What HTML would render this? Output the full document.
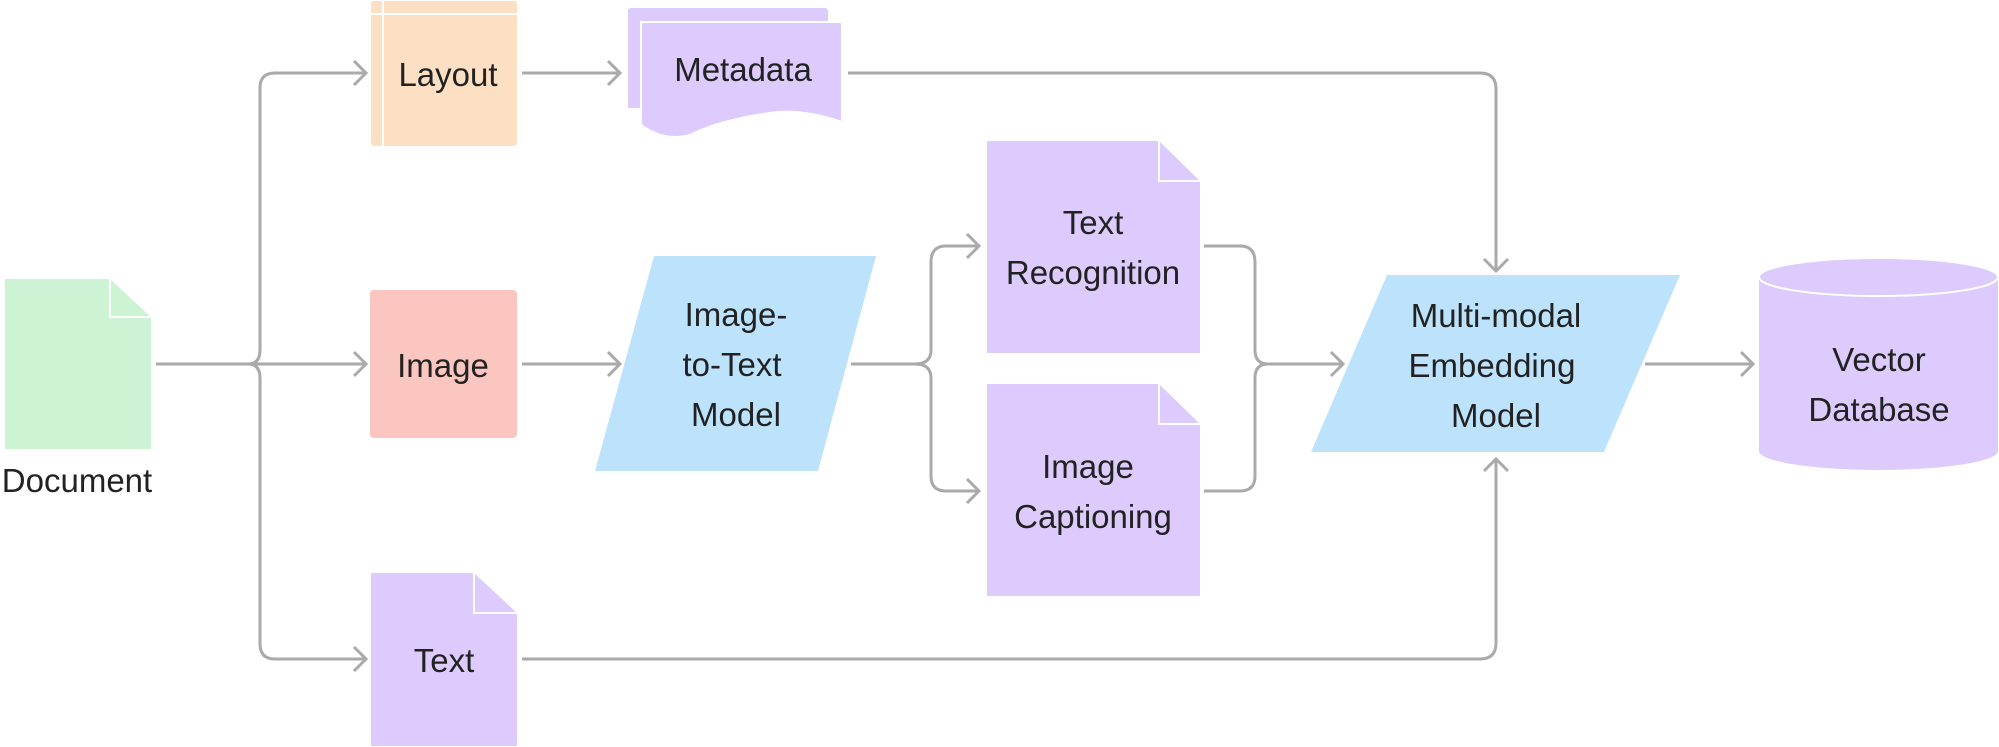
<!DOCTYPE html>
<html><head><meta charset="utf-8"><style>
html,body{margin:0;padding:0;background:#fff;}
svg{display:block;}
text{font-family:"Liberation Sans",sans-serif;font-size:33px;fill:#222;text-anchor:middle;}
</style></head><body>
<svg width="1999" height="747" viewBox="0 0 1999 747" xmlns="http://www.w3.org/2000/svg">
<defs>
<marker id="a" markerWidth="16" markerHeight="28" refX="14" refY="14" orient="auto" markerUnits="userSpaceOnUse">
<path d="M2,2 L14,14 L2,26" fill="none" stroke="#aaa" stroke-width="3"/>
</marker>
</defs>
<g fill="none" stroke="#aaa" stroke-width="3">
<path d="M156,364 H366" marker-end="url(#a)"/>
<path d="M366,73 H275 Q260,73 260,88 V350 Q260,364 248,364 Q260,364 260,378 V644 Q260,659 275,659 H366" marker-end="url(#a)"/>
<path d="M275,73 H366" marker-end="url(#a)"/>
<path d="M522,73 H620" marker-end="url(#a)"/>
<path d="M522,364 H620" marker-end="url(#a)"/>
<path d="M851,364 H915 Q931,364 931,350 V262 Q931,246 946,246 H979" marker-end="url(#a)"/>
<path d="M915,364 Q931,364 931,378 V476 Q931,491 946,491 H979" marker-end="url(#a)"/>
<path d="M1204,246 H1240 Q1255,246 1255,262 V350 Q1255,364 1268,364 H1343" marker-end="url(#a)"/>
<path d="M1204,491 H1240 Q1255,491 1255,476 V378 Q1255,364 1268,364" />
<path d="M848,73 H1480 Q1496,73 1496,89 V271" marker-end="url(#a)"/>
<path d="M522,659 H1480 Q1496,659 1496,643 V459" marker-end="url(#a)"/>
<path d="M1645,364 H1753" marker-end="url(#a)"/>
</g>
<path d="M5,279 H110 L151,317 V449 H5 Z" fill="#ccf3d3"/>
<path d="M110,279 V317 H151" fill="none" stroke="#fff" stroke-width="2"/>
<text x="77" y="492">Document</text>
<rect x="371" y="1" width="146" height="145" rx="3" fill="#fde0c4"/>
<path d="M383,1 V146 M371,14 H517" stroke="#fff" stroke-width="2"/>
<text x="448" y="86">Layout</text>
<path d="M628,10 Q628,8 632,8 H825 Q828,8 828,12 V108 H628 Z" fill="#dccbfc"/>
<path d="M641,22 H842 V122 Q800,108 770,113 Q720,120 690,135 Q665,142 641,125 Z" fill="#dccbfc" stroke="#fff" stroke-width="2"/>
<text x="743" y="81">Metadata</text>
<rect x="370" y="290" width="147" height="148" rx="4" fill="#fcc6c0"/>
<text x="443" y="377">Image</text>
<path d="M371,573 H474 L517,613 V746 H371 Z" fill="#dccbfc"/>
<path d="M474,573 V613 H517" fill="none" stroke="#fff" stroke-width="2"/>
<text x="444" y="672">Text</text>
<path d="M654,256 H876 L818,471 H595 Z" fill="#bde3fc"/>
<text x="736" y="326">Image-</text>
<text x="732" y="376">to-Text</text>
<text x="736" y="426">Model</text>
<path d="M987,141 H1159 L1200,181 V353 H987 Z" fill="#dccbfc"/>
<path d="M1159,141 V181 H1200" fill="none" stroke="#fff" stroke-width="2"/>
<text x="1093" y="234">Text</text>
<text x="1093" y="284">Recognition</text>
<path d="M987,384 H1159 L1200,424 V596 H987 Z" fill="#dccbfc"/>
<path d="M1159,384 V424 H1200" fill="none" stroke="#fff" stroke-width="2"/>
<text x="1088" y="478">Image</text>
<text x="1093" y="528">Captioning</text>
<path d="M1387,275 H1680 L1604,452 H1311 Z" fill="#bde3fc"/>
<text x="1496" y="327">Multi-modal</text>
<text x="1492" y="377">Embedding</text>
<text x="1496" y="427">Model</text>
<path d="M1759,277 V451 A119.5,19 0 0 0 1998,451 V277 Z" fill="#dccbfc"/>
<ellipse cx="1878.5" cy="277" rx="119.5" ry="19" fill="#dccbfc" stroke="#fff" stroke-width="2"/>
<text x="1879" y="371">Vector</text>
<text x="1879" y="421">Database</text>
</svg>
</body></html>
